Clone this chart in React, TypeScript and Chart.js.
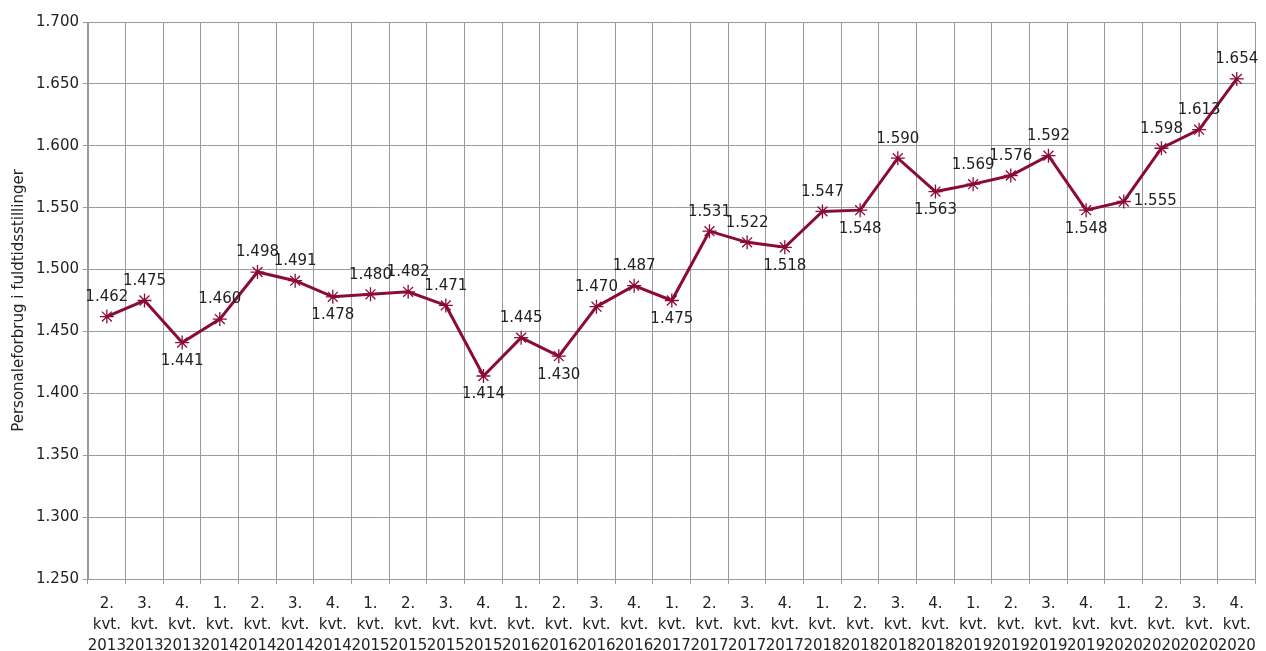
import React, { useEffect, useRef } from "react";
import { Chart, registerables } from "chart.js";

Chart.register(...registerables);

const quarters = ["2.", "3.", "4.", "1.", "2.", "3.", "4.", "1.", "2.", "3.", "4.", "1.", "2.", "3.", "4.", "1.", "2.", "3.", "4.", "1.", "2.", "3.", "4.", "1.", "2.", "3.", "4.", "1.", "2.", "3.", "4."];
const years = ["2013", "2013", "2013", "2014", "2014", "2014", "2014", "2015", "2015", "2015", "2015", "2016", "2016", "2016", "2016", "2017", "2017", "2017", "2017", "2018", "2018", "2018", "2018", "2019", "2019", "2019", "2019", "2020", "2020", "2020", "2020"];
const values = [1462, 1475, 1441, 1460, 1498, 1491, 1478, 1480, 1482, 1471, 1414, 1445, 1430, 1470, 1487, 1475, 1531, 1522, 1518, 1547, 1548, 1590, 1563, 1569, 1576, 1592, 1548, 1555, 1598, 1613, 1654];
const labelPlacement = ["a", "a", "b", "a", "a", "a", "b", "a", "a", "a", "b", "a", "b", "a", "a", "b", "a", "a", "b", "a", "b", "a", "b", "a", "a", "a", "b", "r", "a", "a", "a"];

const FONT = "'DejaVu Sans', sans-serif";
const fmt = (n: number) => {
  const t = Math.floor(n / 1000);
  const r = Math.round(n % 1000);
  return t + "." + String(r).padStart(3, "0");
};

const labelPlugin = {
  id: "pointLabels",
  afterDatasetsDraw(chart: any) {
    const ctx = chart.ctx;
    const meta = chart.getDatasetMeta(0);
    ctx.save();
    ctx.font = `15px ${FONT}`;
    ctx.fillStyle = "#222";
    meta.data.forEach((pt: any, i: number) => {
      const txt = fmt(values[i]);
      const p = labelPlacement[i];
      if (p === "a") {
        ctx.textAlign = "center";
        ctx.textBaseline = "bottom";
        ctx.fillText(txt, pt.x, pt.y - 12);
      } else if (p === "b") {
        ctx.textAlign = "center";
        ctx.textBaseline = "top";
        ctx.fillText(txt, pt.x, pt.y + 11);
      } else {
        ctx.textAlign = "left";
        ctx.textBaseline = "middle";
        ctx.fillText(txt, pt.x + 10, pt.y);
      }
    });
    ctx.restore();
  },
};

export default function App() {
  const ref = useRef<HTMLCanvasElement>(null);
  useEffect(() => {
    if (!ref.current) return;
    const labels = quarters.map((q, i) => [q, "kvt.", years[i]]);
    const chart = new Chart(ref.current, {
      type: "line",
      data: {
        labels,
        datasets: [
          {
            data: values,
            borderColor: "#8B0A38",
            backgroundColor: "#8B0A38",
            borderWidth: 3,
            pointStyle: "star",
            pointRadius: 7,
            pointBorderWidth: 1.3,
            pointBorderColor: "#8B0A38",
            tension: 0,
          },
        ],
      },
      options: {
        animation: false,
        responsive: true,
        maintainAspectRatio: false,
        layout: { padding: { top: 22, right: 5, left: 0, bottom: 0 } },
        plugins: { legend: { display: false }, tooltip: { enabled: false } },
        scales: {
          x: {
            offset: true,
            grid: { color: "#9a9a9a", lineWidth: 1, offset: true, tickLength: 5, drawTicks: true },
            border: { color: "#9a9a9a" },
            ticks: {
              autoSkip: false,
              maxRotation: 0,
              minRotation: 0,
              color: "#222",
              font: { family: FONT, size: 15, lineHeight: 1.38 },
              padding: 10,
            },
            afterFit(scale: any) {
              scale.height = 72;
            },
          },
          y: {
            min: 1250,
            max: 1700,
            grid: { color: "#9a9a9a", lineWidth: 1, tickLength: 5 },
            border: { color: "#9a9a9a" },
            ticks: {
              stepSize: 50,
              color: "#222",
              font: { family: FONT, size: 15 },
              padding: 4,
              callback: (v: any) => fmt(Number(v)),
            },
            title: {
              display: true,
              text: "Personaleforbrug i fuldtidsstillinger",
              color: "#222",
              font: { family: FONT, size: 15 },
              padding: { top: 10, bottom: 2 },
            },
            afterFit(scale: any) {
              scale.width = 88;
            },
          },
        },
      },
      plugins: [labelPlugin],
    });
    return () => chart.destroy();
  }, []);
  return (
    <div style={{ position: "absolute", left: 0, top: 0, width: 1266, height: 651 }}>
      <canvas ref={ref} />
    </div>
  );
}
